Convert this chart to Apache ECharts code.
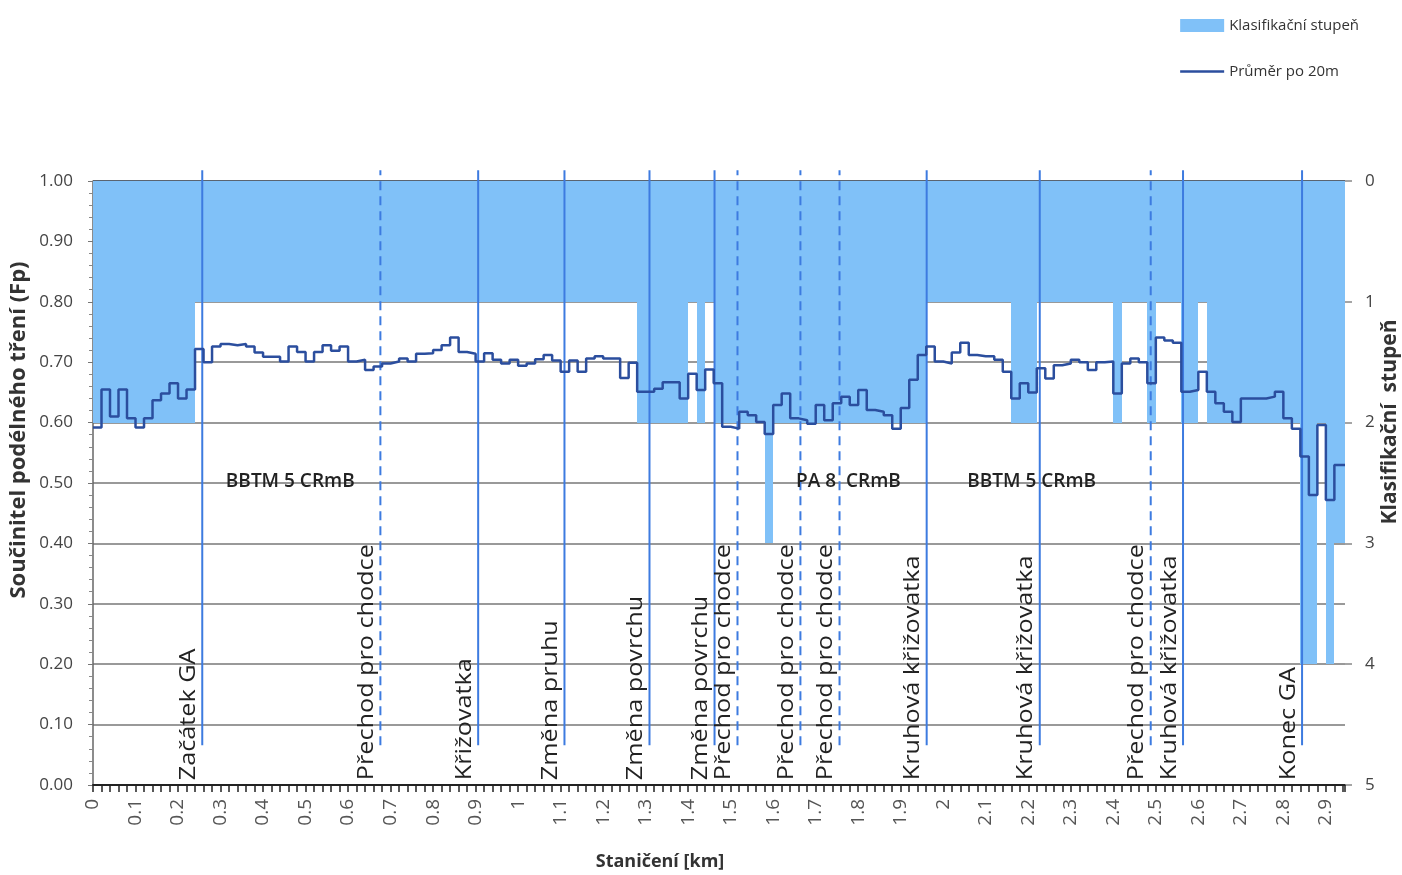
<!DOCTYPE html>
<html><head><meta charset="utf-8">
<script src="https://cdn.jsdelivr.net/npm/echarts/dist/echarts.min.js"></script>
<style>html,body{margin:0;padding:0;background:#fff}#c{width:1402px;height:875px}</style>
</head><body><div id="c"></div>
<script>
// ---- data ----
const BIN_KM = 0.02;          // 20 m bins
const X_MAX = 2.945;          // end of the measured section (km)
const fpValues = [
 0.592,0.655,0.610,0.655,0.607,0.592,0.607,0.637,0.648,0.665,
 0.640,0.655,0.722,0.700,0.726,0.730,0.728,0.730,0.726,0.716,
 0.709,0.709,0.701,0.726,0.717,0.701,0.717,0.728,0.719,0.726,
 0.701,0.704,0.687,0.693,0.698,0.701,0.706,0.701,0.714,0.715,
 0.720,0.728,0.741,0.717,0.714,0.701,0.715,0.704,0.698,0.704,
 0.694,0.698,0.705,0.712,0.703,0.684,0.703,0.684,0.706,0.710,
 0.706,0.706,0.674,0.699,0.651,0.651,0.656,0.667,0.667,0.640,
 0.681,0.654,0.688,0.665,0.593,0.590,0.618,0.612,0.601,0.581,
 0.629,0.648,0.607,0.604,0.598,0.629,0.604,0.632,0.643,0.629,
 0.654,0.621,0.618,0.612,0.590,0.624,0.671,0.712,0.726,0.701,
 0.698,0.716,0.732,0.712,0.710,0.710,0.704,0.684,0.640,0.665,
 0.650,0.690,0.673,0.695,0.698,0.704,0.700,0.687,0.700,0.701,
 0.648,0.698,0.706,0.700,0.665,0.741,0.736,0.732,0.651,0.654,
 0.684,0.651,0.632,0.618,0.601,0.640,0.640,0.640,0.643,0.651,
 0.607,0.590,0.544,0.480,0.596,0.472,0.530
];
const stages = [
 2,2,2,2,2,2,2,2,2,2,
 2,2,1,1,1,1,1,1,1,1,
 1,1,1,1,1,1,1,1,1,1,
 1,1,1,1,1,1,1,1,1,1,
 1,1,1,1,1,1,1,1,1,1,
 1,1,1,1,1,1,1,1,1,1,
 1,1,1,1,2,2,2,2,2,2,
 1,2,1,2,2,2,2,2,2,3,
 2,2,2,2,2,2,2,2,2,2,
 2,2,2,2,2,2,2,2,1,1,
 1,1,1,1,1,1,1,1,2,2,
 2,1,1,1,1,1,1,1,1,1,
 2,1,1,1,2,1,1,1,2,2,
 1,2,2,2,2,2,2,2,2,2,
 2,2,4,4,2,4,3
];
const markerKm = [0.257,0.676,0.906,1.109,1.309,1.462,1.516,1.664,1.756,1.961,2.227,2.488,2.564,2.844];
const markerNames = ['Začátek GA','Přechod pro chodce','Křižovatka','Změna pruhu','Změna povrchu','Změna povrchu',
  'Přechod pro chodce','Přechod pro chodce','Přechod pro chodce','Kruhová křižovatka','Kruhová křižovatka',
  'Přechod pro chodce','Kruhová křižovatka','Konec GA'];
const markerDashed = [false,true,false,false,false,false,true,true,true,false,false,true,false,false];
const sectionNames = ['BBTM 5 CRmB','PA 8  CRmB','BBTM 5 CRmB'];
const sectionKm = [0.464, 1.777, 2.208];
const sectionFp = [0.503, 0.503, 0.503];
const stageTicks = [0,1,2,3,4,5];

// ---- styles ----
const BLUE = '#80C1F8';
const LINE_BLUE = '#2B4E9E';
const MARK_BLUE = '#3D7BE0';
const FONT = "'Open Sans', 'Liberation Sans', sans-serif";
const MARKER_LINE_BOTTOM = 0.066, MARKER_LINE_TOP = 1.018, MARKER_LABEL_FP = 0.008;

const barData = stages.map((s, i) => [i * BIN_KM, i === stages.length - 1 ? X_MAX : (i + 1) * BIN_KM, s]);
const lineData = fpValues.map((v, i) => [i * BIN_KM, v]);
lineData.push([X_MAX, fpValues[fpValues.length - 1]]);
const markerData = markerKm.map((k, i) => [k, 0.5, i]);
const sectionData = sectionKm.map((k, i) => [k, sectionFp[i], i]);

const gridColors = ['#999','#999','#999','#999','#999','#999','#999','#999','#999','#999','#5a6470'];

const chart = echarts.init(document.getElementById('c'));
chart.setOption({
  animation: false,
  backgroundColor: '#fff',
  grid: { left: 93, right: 57, top: 181, bottom: 90, containLabel: false, outerBoundsMode: 'none' },
  legend: {
    orient: 'vertical', right: 38, top: 13, itemWidth: 44, itemHeight: 13, itemGap: 31,
    textStyle: { fontFamily: FONT, fontSize: 15, color: '#333' },
    data: [{ name: 'Klasifikační stupeň', icon: 'rect' },
           { name: 'Průměr po 20m', icon: 'path://M0,0 L100,0 L100,6 L0,6 Z' }]
  },
  xAxis: {
    type: 'value', min: 0, max: X_MAX, interval: 0.1,
    axisLine: { show: true, lineStyle: { color: '#222', width: 2 } },
    axisTick: { show: true, length: 7, lineStyle: { color: '#222', width: 1.5 } },
    minorTick: { show: true, splitNumber: 5, length: 7, lineStyle: { color: '#222', width: 1.5 } },
    splitLine: { show: false },
    axisLabel: {
      rotate: 90, margin: 14, fontFamily: FONT, fontSize: 19, color: '#555', showMaxLabel: false,
      hideOverlap: false,
      formatter: v => String(+v.toFixed(2))
    }
  },
  yAxis: [
    {
      type: 'value', min: 0, max: 1, interval: 0.1, position: 'left',
      axisLine: { show: true, lineStyle: { color: '#666', width: 1.5 } },
      axisTick: { show: true, length: 5, lineStyle: { color: '#777' } },
      minorTick: { show: true, splitNumber: 5, length: 4, lineStyle: { color: '#888' } },
      splitLine: { show: true, lineStyle: { color: gridColors, width: 2 } },
      axisLabel: { margin: 20, fontFamily: FONT, fontSize: 17, color: '#444', formatter: v => v.toFixed(2) }
    },
    {
      type: 'value', min: stageTicks[0], max: stageTicks[stageTicks.length - 1], interval: 1, inverse: true, position: 'right',
      axisLine: { show: false },
      axisTick: { show: true, length: 7, lineStyle: { color: '#888', width: 1.5 } },
      splitLine: { show: false },
      axisLabel: { margin: 20, fontFamily: FONT, fontSize: 17, color: '#444' }
    }
  ],
  graphic: [
    { type: 'text', x: 19, y: 430, rotation: Math.PI / 2,
      style: { text: 'Součinitel podélného tření (Fp)', fill: '#333', font: "bold 22px 'Open Sans', sans-serif", align: 'center', verticalAlign: 'middle' } },
    { type: 'text', x: 1390, y: 422, rotation: Math.PI / 2,
      style: { text: 'Klasifikační  stupeň', fill: '#333', font: "bold 21px 'Open Sans', sans-serif", align: 'center', verticalAlign: 'middle' } },
    { type: 'text', x: 660, y: 862,
      style: { text: 'Staničení [km]', fill: '#333', font: "bold 18px 'Open Sans', sans-serif", align: 'center', verticalAlign: 'middle' } }
  ],
  series: [
    {
      name: 'Klasifikační stupeň', type: 'custom', xAxisIndex: 0, yAxisIndex: 1, clip: true, z: 1,
      itemStyle: { color: BLUE },
      encode: { x: [0, 1], y: 2 },
      data: barData,
      renderItem: (params, api) => {
        const p0 = api.coord([api.value(0), 0]);
        const p1 = api.coord([api.value(1), api.value(2)]);
        const x0 = Math.round(p0[0]), x1 = Math.round(p1[0]);
        return { type: 'rect', shape: { x: x0, y: Math.round(p0[1]), width: x1 - x0, height: Math.round(p1[1]) - Math.round(p0[1]) },
                 style: { fill: BLUE, stroke: null } };
      }
    },
    {
      name: 'markers', type: 'custom', xAxisIndex: 0, yAxisIndex: 0, clip: false, z: 3,
      encode: { x: 0, y: 1 },
      data: markerData,
      renderItem: (params, api) => {
        const km = api.value(0), idx = api.value(2);
        const b = api.coord([km, MARKER_LINE_BOTTOM]);
        const t = api.coord([km, MARKER_LINE_TOP]);
        const l = api.coord([km, MARKER_LABEL_FP]);
        return { type: 'group', children: [
          { type: 'line', shape: { x1: b[0], y1: b[1], x2: t[0], y2: t[1] },
            style: { stroke: MARK_BLUE, lineWidth: 2, lineDash: markerDashed[idx] ? [9, 6] : null } },
          { type: 'text', x: l[0] - 3, y: l[1], rotation: Math.PI / 2, scaleX: 1.2, scaleY: 1,
            style: { text: markerNames[idx], fill: '#222', fontFamily: FONT, fontSize: 21, align: 'left', verticalAlign: 'bottom' } }
        ] };
      }
    },
    {
      name: 'sections', type: 'custom', xAxisIndex: 0, yAxisIndex: 0, clip: false, z: 3,
      encode: { x: 0, y: 1 },
      data: sectionData,
      renderItem: (params, api) => {
        const p = api.coord([api.value(0), api.value(1)]);
        return { type: 'text', x: p[0], y: p[1],
          style: { text: sectionNames[api.value(2)], fill: '#222', fontFamily: FONT, fontSize: 19, fontWeight: 600, align: 'center', verticalAlign: 'middle' } };
      }
    },
    {
      name: 'Průměr po 20m', type: 'line', step: 'end', xAxisIndex: 0, yAxisIndex: 0, z: 4,
      symbol: 'none', showSymbol: false,
      lineStyle: { color: LINE_BLUE, width: 2.5 },
      itemStyle: { color: LINE_BLUE },
      data: lineData
    }
  ]
});
</script></body></html>
